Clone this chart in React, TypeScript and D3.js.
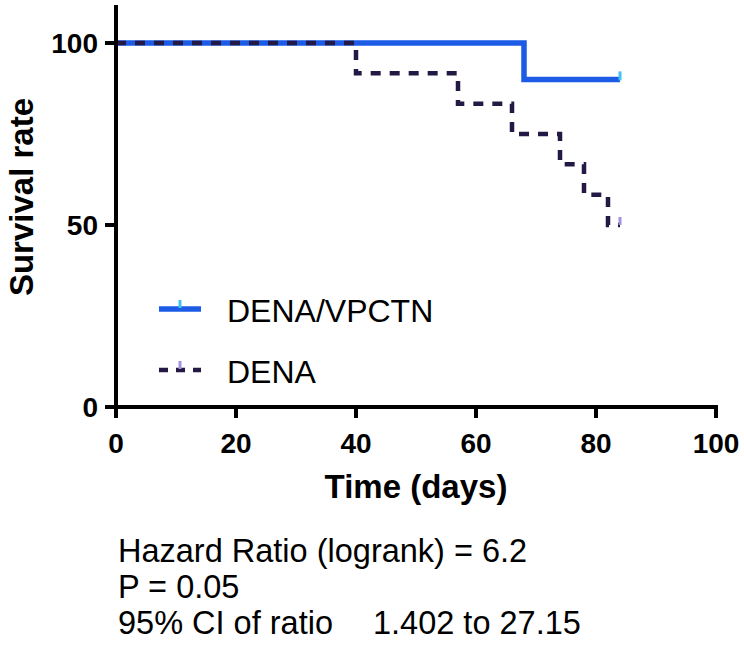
import * as d3 from 'd3'

// survival data
const timeTicks = [0, 20, 40, 60, 80, 100]
const survivalTicks = [0, 50, 100]

const vpctnTimes = [0, 68, 84]
const vpctnSurvival = [100, 90, 90]

const denaTimes = [0, 40, 57, 66, 74, 78, 82, 84]
const denaSurvival = [100, 91.67, 83.33, 75, 66.67, 58.33, 50, 50]

const seriesNames = ['DENA/VPCTN', 'DENA']

const statsLines = [
  ['Hazard Ratio (logrank) = 6.2'],
  ['P = 0.05'],
  ['95% CI of ratio', '1.402 to 27.15']
]

const W = 744
const H = 645
const font = 'Arial, "Liberation Sans", sans-serif'

export default function App() {
  const x = d3.scaleLinear().domain([0, 100]).range([116, 716])
  const y = d3.scaleLinear().domain([0, 100]).range([407, 43])

  const toPts = (ts: number[], vs: number[]) => ts.map((t, i) => [t, vs[i]] as [number, number])
  const line = d3.line<[number, number]>()
    .x(d => x(d[0]))
    .y(d => y(d[1]))
    .curve(d3.curveStepAfter)

  const vpctn = toPts(vpctnTimes, vpctnSurvival)
  const dena = toPts(denaTimes, denaSurvival)
  const vEnd = vpctn[vpctn.length - 1]
  const dEnd = dena[dena.length - 1]

  const blue = '#1b5be6'
  const dark = '#241944'
  const tickLen = 11

  return (
    <div style={{ position: 'absolute', left: 0, top: 0 }}>
      <svg width={W} height={H} style={{ display: 'block' }}>
        <rect width={W} height={H} fill="#fff" />

        {/* curves */}
        <path d={line(vpctn) || ''} fill="none" stroke={blue} strokeWidth={5.5} />
        <path d={line(dena) || ''} fill="none" stroke={dark} strokeWidth={4.5}
          strokeDasharray="10 9" />
        <line x1={x(vEnd[0])} x2={x(vEnd[0])} y1={y(vEnd[1]) - 8} y2={y(vEnd[1]) + 1}
          stroke="#40c4f4" strokeWidth={3} />
        <line x1={x(dEnd[0])} x2={x(dEnd[0])} y1={y(dEnd[1]) - 8} y2={y(dEnd[1])}
          stroke="#a593dc" strokeWidth={3} />

        {/* axes */}
        <g stroke="#000" strokeWidth={4}>
          <line x1={x(0)} x2={x(0)} y1={5} y2={y(0) + tickLen} />
          <line x1={x(0) - tickLen} x2={x(100) + 2} y1={y(0)} y2={y(0)} />
          {timeTicks.map(t => (
            <line key={t} x1={x(t)} x2={x(t)} y1={y(0)} y2={y(0) + tickLen} />
          ))}
          {survivalTicks.map(s => (
            <line key={s} x1={x(0) - tickLen} x2={x(0)} y1={y(s)} y2={y(s)} />
          ))}
        </g>
        <g fontFamily={font} fontWeight="bold" fontSize={28} fill="#000">
          {timeTicks.map(t => (
            <text key={t} x={x(t)} y={453} textAnchor="middle">{t}</text>
          ))}
          {survivalTicks.map(s => (
            <text key={s} x={98} y={y(s) + 10} textAnchor="end">{s}</text>
          ))}
        </g>
        <text x={416} y={498} textAnchor="middle" fontFamily={font} fontWeight="bold"
          fontSize={33}>Time (days)</text>
        <text transform={`translate(33,${y(50) - 28}) rotate(-90)`} textAnchor="middle"
          fontFamily={font} fontWeight="bold" fontSize={33}>Survival rate</text>

        {/* legend */}
        <line x1={159} x2={201} y1={309} y2={309} stroke={blue} strokeWidth={5.5} />
        <line x1={180} x2={180} y1={300} y2={308} stroke="#40c4f4" strokeWidth={3} />
        <line x1={159} x2={201} y1={370} y2={370} stroke={dark} strokeWidth={4.5}
          strokeDasharray="9 8" />
        <line x1={180} x2={180} y1={361} y2={369} stroke="#a593dc" strokeWidth={3} />
        <g fontFamily={font} fontSize={32} fill="#000">
          {seriesNames.map((n, i) => (
            <text key={n} x={227} y={322 + i * 61}>{n}</text>
          ))}
        </g>

        {/* stats */}
        <g fontFamily={font} fontSize={32.5} fill="#000">
          {statsLines.map((parts, i) => (
            <text key={i} x={118} y={562 + i * 36}>
              <tspan>{parts[0]}</tspan>
              {parts[1] && <tspan x={373}>{parts[1]}</tspan>}
            </text>
          ))}
        </g>
      </svg>
    </div>
  )
}
